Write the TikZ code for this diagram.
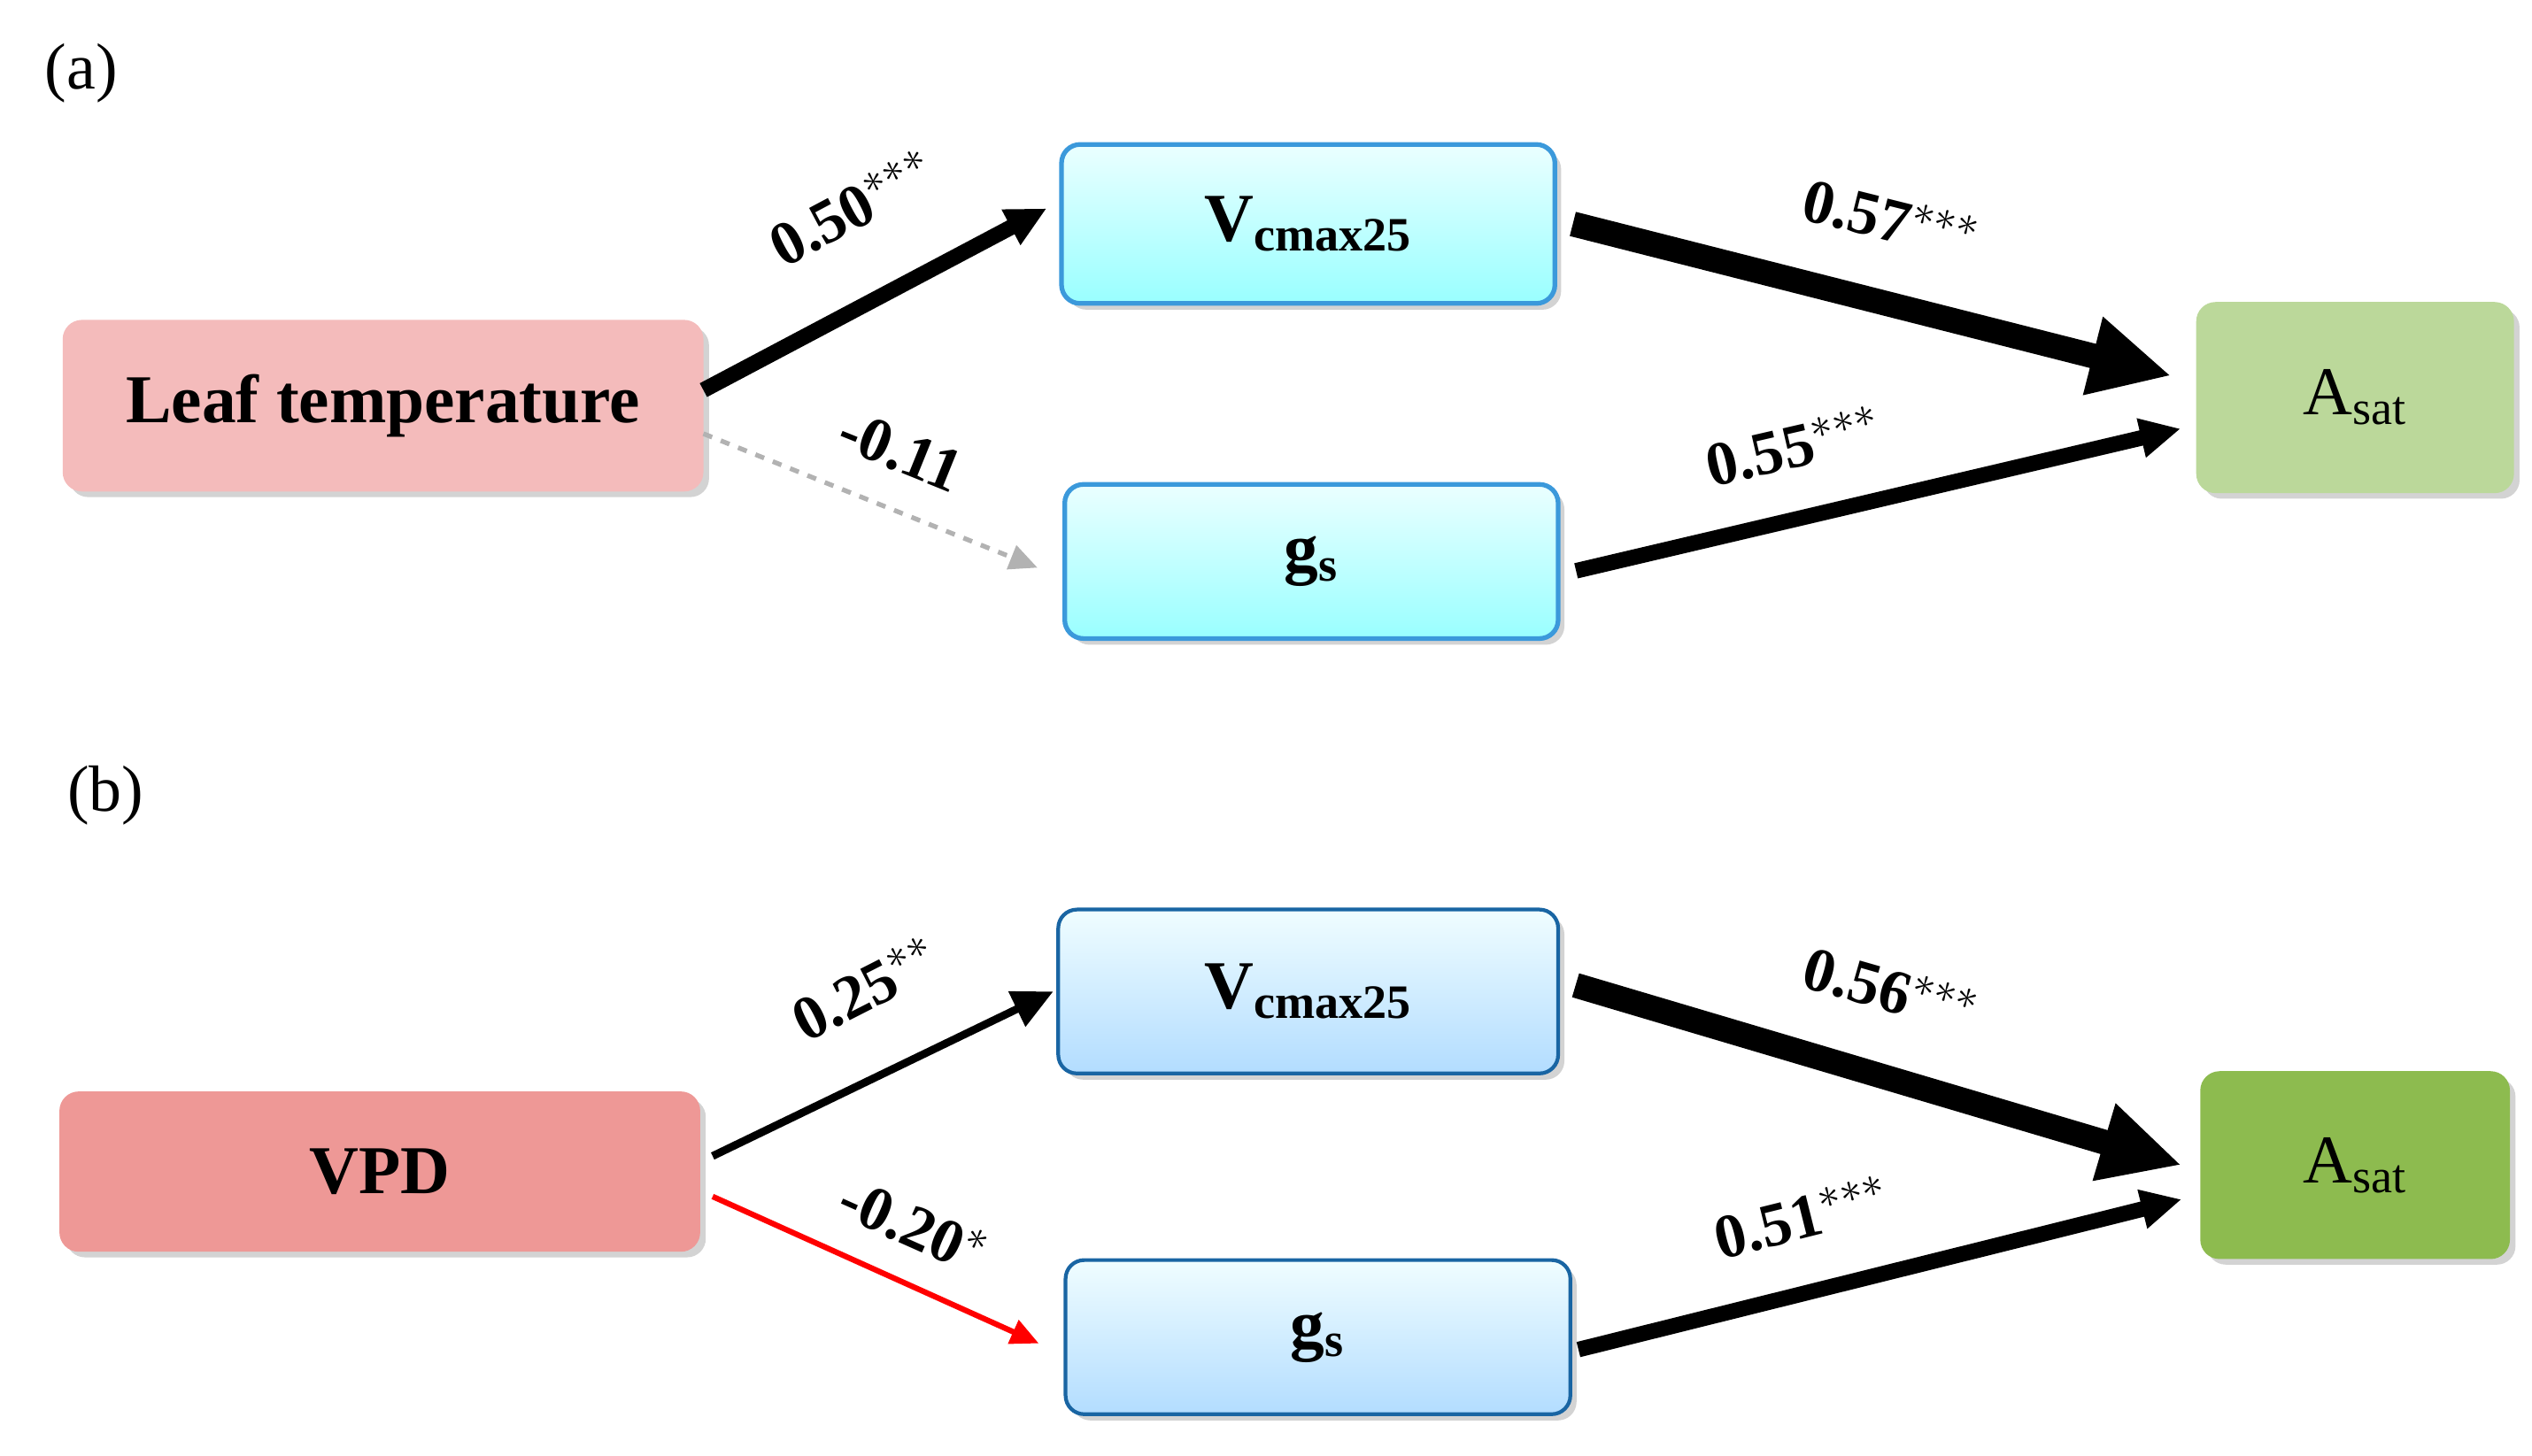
\documentclass[tikz,border=0pt]{standalone}
\usepackage{fontspec}
\setmainfont{Liberation Serif}
\usetikzlibrary{arrows.meta,shadows,calc}
\begin{document}
\begin{tikzpicture}[x=0.01833cm,y=-0.01833cm,
 box/.style={rounded corners=6pt,minimum height=#1,inner sep=0pt,drop shadow={shadow xshift=2pt,shadow yshift=-2pt,opacity=0.35}},
 cy/.style={box=#1,draw=cyan!70!blue!80,line width=1.5pt,top color=cyan!8,bottom color=cyan!40},
 bl/.style={box=#1,draw=blue!45!cyan!60!black!90,line width=1.2pt,top color=blue!12!cyan!6,bottom color=blue!45!cyan!30!white},
 lab/.style={font=\fontsize{20}{24}\selectfont\bfseries},
 tx/.style={font=\fontsize{21}{24}\selectfont},
 ar/.style={line width=#1,-{Triangle[length=13pt,width=12pt]}},
 big/.style={line width=#1,-{Triangle[length=26pt,width=24pt]}}]
\useasboundingbox (0,0) rectangle (1560,897);
\node[tx] (pa) at (50,45) {(a)};
\node[tx] (pb) at (65,490) {(b)};
% (a)
\node[box=105*0.01833cm,minimum width=394*0.01833cm,fill={rgb,255:red,244;green,187;blue,187},draw={rgb,255:red,244;green,187;blue,187},font=\fontsize{22}{24}\selectfont\bfseries] (lt) at (236,250) {Leaf temperature};
\node[cy=98*0.01833cm,minimum width=304*0.01833cm,font=\fontsize{22}{24}\selectfont\bfseries] (va) at (806,138) {V\textsubscript{cmax25}};
\node[cy=95*0.01833cm,minimum width=304*0.01833cm,font=\fontsize{22}{24}\selectfont\bfseries] (ga) at (808,346) {g\textsubscript{s}};
\node[box=117*0.01833cm,minimum width=195*0.01833cm,fill={rgb,255:red,187;green,216;blue,154},draw={rgb,255:red,187;green,216;blue,154},font=\fontsize{22}{24}\selectfont] (aa) at (1451,245) {A\textsubscript{sat}};
% (b)
\node[box=98*0.01833cm,minimum width=394*0.01833cm,fill={rgb,255:red,238;green,152;blue,150},draw={rgb,255:red,238;green,152;blue,150},font=\fontsize{22}{24}\selectfont\bfseries] (vpd) at (234,722) {VPD};
\node[bl=101*0.01833cm,minimum width=308*0.01833cm,font=\fontsize{22}{24}\selectfont\bfseries] (vb) at (806,611) {V\textsubscript{cmax25}};
\node[bl=95*0.01833cm,minimum width=311*0.01833cm,font=\fontsize{22}{24}\selectfont\bfseries] (gb) at (812,824) {g\textsubscript{s}};
\node[box=115*0.01833cm,minimum width=190*0.01833cm,fill={rgb,255:red,141;green,187;blue,79},draw={rgb,255:red,141;green,187;blue,79},font=\fontsize{22}{24}\selectfont] (ab) at (1451,718) {A\textsubscript{sat}};
% arrows (a)
\draw[ar=5pt] ([yshift=5pt]lt.east) -- ([xshift=-4pt,yshift=5pt]va.west);
\draw[gray!60,line width=1.5pt,dashed,-{Triangle[length=9pt,width=8pt]}] ([yshift=-9pt]lt.east) -- ([xshift=-8pt,yshift=-2pt]ga.west);
\draw[big=8pt] ([xshift=5pt]va.east) -- ([xshift=-8pt,yshift=7pt]aa.west);
\draw[ar=5pt] ([xshift=5pt,yshift=-3pt]ga.east) -- ([xshift=-5pt,yshift=-10pt]aa.west);
% arrows (b)
\draw[ar=2.5pt] ([xshift=4pt,yshift=5pt]vpd.east) -- ([xshift=-1pt,yshift=0pt]vb.west);
\draw[red,line width=1.8pt,-{Triangle[length=9pt,width=8pt]}] ([xshift=4pt,yshift=-8pt]vpd.east) -- ([xshift=-8pt,yshift=-2pt]gb.west);
\draw[big=8pt] ([xshift=5pt,yshift=2pt]vb.east) -- ([xshift=-6pt,yshift=0pt]ab.west);
\draw[ar=5pt] ([xshift=2pt,yshift=-4pt]gb.east) -- ([xshift=-6pt,yshift=-11pt]ab.west);
% labels
\node[lab,rotate=28] (l1) at (525,128) {0.50$^{***}$};
\node[lab,rotate=-22] (l2) at (555,278) {-0.11};
\node[lab,rotate=-14] (l3) at (1165,135) {0.57$^{***}$};
\node[lab,rotate=13] (l4) at (1105,275) {0.55$^{***}$};
\node[lab,rotate=27] (l5) at (533,609) {0.25$^{**}$};
\node[lab,rotate=-24] (l6) at (563,755) {-0.20$^{*}$};
\node[lab,rotate=-16] (l7) at (1165,610) {0.56$^{***}$};
\node[lab,rotate=14] (l8) at (1110,750) {0.51$^{***}$};
\end{tikzpicture}
\end{document}
